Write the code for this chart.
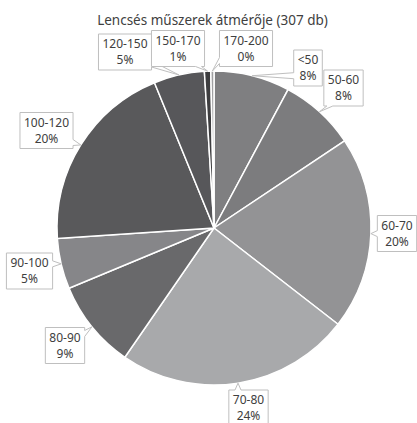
<!DOCTYPE html>
<html>
<head>
<meta charset="utf-8">
<script src="https://cdn.jsdelivr.net/npm/d3@7"></script>
<style>
  body { margin: 0; background: #fff; }
  text { font-family: "Noto Sans", "Open Sans", sans-serif; fill: #404040; }
</style>
</head>
<body>
<div></div>
<script>
// categories and counts (307 db total)
var categories = ["<50", "50-60", "60-70", "70-80", "80-90", "90-100", "100-120", "120-150", "150-170", "170-200"];
var counts = [24, 24, 61, 74, 28, 16, 61, 16, 2, 1];
var colors = ["#7f7f81", "#7c7c7e", "#939395", "#a8a9ab", "#69696b", "#868689", "#59595b", "#57575a", "#3e3e40", "#a0a0a2"];
var title = "Lencsés műszerek átmérője (307 db)";

var width = 417;
var height = 423;
var cx = 214;
var cy = 228;
var radius = 157;

// where each callout box sits (center)
var labelPos = {
  "<50": [308, 68],
  "50-60": [343.5, 88],
  "60-70": [397, 233.5],
  "70-80": [248.5, 408],
  "80-90": [65, 345.5],
  "90-100": [29.5, 271],
  "100-120": [46.5, 130.5],
  "120-150": [125, 52],
  "150-170": [178, 48.5],
  "170-200": [246, 48.5]
};

var total = d3.sum(counts);
var data = categories.map(function(c, i) {
  return { cat: c, value: counts[i], color: colors[i] };
});

var svg = d3
  .select("body")
  .select("div")
  .append("svg")
  .attr("width", width)
  .attr("height", height);

svg
  .append("text")
  .attr("x", width / 2 + 4)
  .attr("y", 25)
  .attr("text-anchor", "middle")
  .style("font-size", "13.5px")
  .text(title);

var pie = d3
  .pie()
  .sort(null)
  .value(function(d) {
    return d.value;
  });

var arcs = pie(data);

var arc = d3
  .arc()
  .innerRadius(0)
  .outerRadius(radius);

// point on the rim, for the callout tips
var rim = d3
  .arc()
  .innerRadius(radius)
  .outerRadius(radius);

var chartGroup = svg
  .append("g")
  .attr("transform", "translate(" + cx + "," + cy + ")");

chartGroup
  .selectAll("path")
  .data(arcs)
  .enter()
  .append("path")
  .attr("d", arc)
  .attr("fill", function(d) {
    return d.data.color;
  })
  .attr("stroke", "#fff")
  .attr("stroke-width", 1.5);

//============ callouts ============
function calloutPath(x0, y0, x1, y1, ax, ay) {
  var w = 3;
  var mx = (x0 + x1) / 2, my = (y0 + y1) / 2;
  var hw = (x1 - x0) / 2, hh = (y1 - y0) / 2;
  var dx = (ax - mx) / hw, dy = (ay - my) / hh;
  var bx = Math.max(x0 + 6, Math.min(x1 - 6, ax));
  var by = Math.max(y0 + 6, Math.min(y1 - 6, ay));
  if (Math.abs(dy) >= Math.abs(dx)) {
    if (dy > 0) {
      return "M" + x0 + "," + y0 + "H" + x1 + "V" + y1 + "H" + (bx + w) +
        "L" + ax + "," + ay + "L" + (bx - w) + "," + y1 + "H" + x0 + "Z";
    }
    return "M" + x0 + "," + y0 + "H" + (bx - w) + "L" + ax + "," + ay +
      "L" + (bx + w) + "," + y0 + "H" + x1 + "V" + y1 + "H" + x0 + "Z";
  }
  if (dx > 0) {
    return "M" + x0 + "," + y0 + "H" + x1 + "V" + (by - w) + "L" + ax + "," + ay +
      "L" + x1 + "," + (by + w) + "V" + y1 + "H" + x0 + "Z";
  }
  return "M" + x0 + "," + y0 + "H" + x1 + "V" + y1 + "H" + x0 + "V" + (by + w) +
    "L" + ax + "," + ay + "L" + x0 + "," + (by - w) + "Z";
}

var labels = svg.append("g");

arcs.forEach(function(d) {
  var pos = labelPos[d.data.cat];
  var tip = rim.centroid(d);
  var ax = tip[0] + cx, ay = tip[1] + cy;
  var pct = Math.round((d.data.value / total) * 100) + "%";

  var g = labels.append("g");
  var box = g.append("path");
  var t1 = g
    .append("text")
    .attr("x", pos[0])
    .attr("y", pos[1] - 4)
    .attr("text-anchor", "middle")
    .style("font-size", "12px")
    .text(d.data.cat);
  var t2 = g
    .append("text")
    .attr("x", pos[0])
    .attr("y", pos[1] + 12)
    .attr("text-anchor", "middle")
    .style("font-size", "12px")
    .text(pct);

  var tw = Math.max(t1.node().getComputedTextLength(), t2.node().getComputedTextLength());
  var bw = tw + 8;
  var bh = 36;
  var x0 = pos[0] - bw / 2, x1 = pos[0] + bw / 2;
  var y0 = pos[1] - bh / 2, y1 = pos[1] + bh / 2;

  box
    .attr("d", calloutPath(x0, y0, x1, y1, ax, ay))
    .attr("fill", "#fff")
    .attr("stroke", "#bfbfbf")
    .attr("stroke-width", 1);
});
</script>
</body>
</html>
